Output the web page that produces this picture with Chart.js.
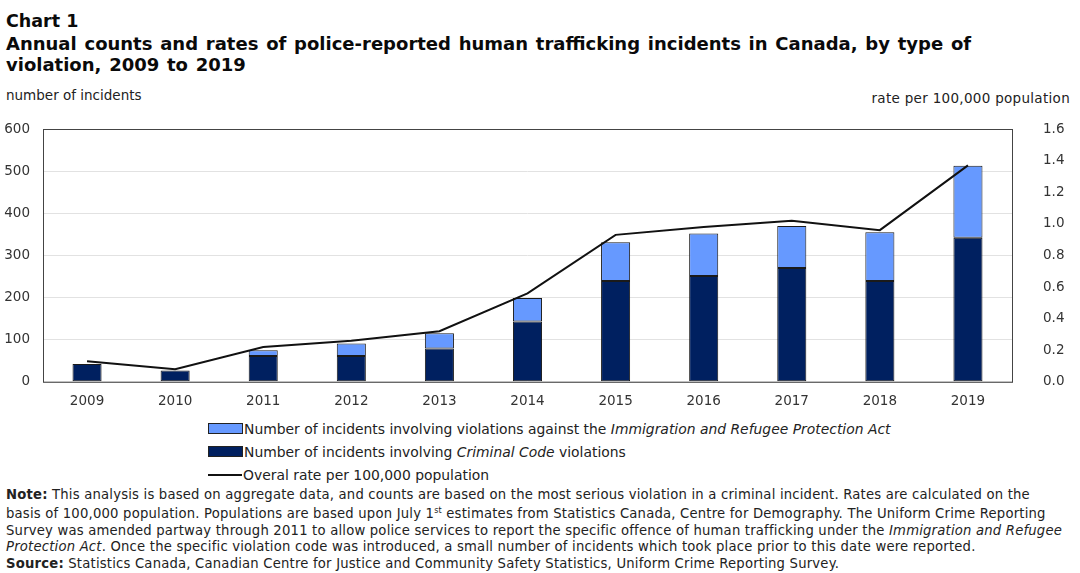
<!DOCTYPE html>
<html>
<head>
<meta charset="utf-8">
<script src="https://cdn.jsdelivr.net/npm/chart.js@4"></script>
<style>
    body { margin: 0; background: #fff; width: 1080px; height: 573px; overflow: hidden; position: relative; font-family: "DejaVu Sans", Verdana, sans-serif; color: #111; }
    .title { position: absolute; left: 6px; top: 10px; font-weight: bold; color: #0a0a0a; }
    .title .num { font-size: 17.5px; line-height: 23px; }
    .title .main { font-size: 18px; line-height: 21px; word-spacing: 1.5px; }
    .axis-label { position: absolute; top: 87px; font-size: 13.5px; color: #222; }
    #chartWrap { position: absolute; left: 0; top: 108px; width: 1080px; height: 306px; }
    .legend { position: absolute; left: 208px; top: 417px; font-size: 13.9px; color: #222; }
    .legend .row { height: 23px; line-height: 18px; display: flex; align-items: center; white-space: nowrap; }
    .legend .box { width: 33px; height: 9px; border: 1px solid #222; margin-right: 1px; }
    .legend .ln { width: 34px; height: 2px; background: #111; margin-right: 1px; }
    .note { position: absolute; left: 6px; top: 487px; font-size: 13.2px; letter-spacing: 0.2px; line-height: 16.3px; color: #222; white-space: nowrap; }
</style>
</head>
<body>
<div class="title">
    <div class="num">Chart 1</div>
    <div class="main">Annual counts and rates of police-reported human trafficking incidents in Canada, by type of<br>violation, 2009 to 2019</div>
</div>
<div class="axis-label" style="left:6px;">number of incidents</div>
<div class="axis-label" style="right:10px; top:90px; letter-spacing:0.3px;">rate per 100,000 population</div>
<div id="chartWrap"><canvas id="chart"></canvas></div>
<div class="legend">
    <div class="row"><span class="box" style="background:#6699ff"></span>Number of incidents involving violations against the&nbsp;<i>Immigration and Refugee Protection Act</i></div>
    <div class="row"><span class="box" style="background:#002060"></span>Number of incidents involving&nbsp;<i>Criminal Code</i>&nbsp;violations</div>
    <div class="row"><span class="ln"></span>Overal rate per 100,000 population</div>
</div>
<div class="note">
    <b>Note:</b> This analysis is based on aggregate data, and counts are based on the most serious violation in a criminal incident. Rates are calculated on the<br>
    basis of 100,000 population. Populations are based upon July 1<sup style="font-size:8px">st</sup> estimates from Statistics Canada, Centre for Demography. The Uniform Crime Reporting<br>
    Survey was amended partway through 2011 to allow police services to report the specific offence of human trafficking under the <i>Immigration and Refugee</i><br>
    <i>Protection Act</i>. Once the specific violation code was introduced, a small number of incidents which took place prior to this date were reported.<br>
    <b>Source:</b> Statistics Canada, Canadian Centre for Justice and Community Safety Statistics, Uniform Crime Reporting Survey.
</div>
<script>
// Chart data
const years = ['2009', '2010', '2011', '2012', '2013', '2014', '2015', '2016', '2017', '2018', '2019'];
const criminalCode = [42, 27, 61, 61, 79, 143, 239, 251, 270, 239, 342];
const irpa = [0, 0, 14, 30, 36, 56, 92, 101, 100, 116, 171];
const overallRate = [0.13, 0.08, 0.22, 0.26, 0.32, 0.56, 0.93, 0.98, 1.02, 0.96, 1.37];

// Draws the box around the plot area
const frameBox = {
    id: 'frameBox',
    afterDraw(chart) {
        const { ctx, chartArea: a } = chart;
        ctx.save();
        ctx.strokeStyle = '#444';
        ctx.lineWidth = 1;
        ctx.strokeRect(a.left + 0.5, a.top + 0.5, a.width, a.height);
        ctx.restore();
    }
};

// Fixed axis widths so the plot box lines up with the original
function fixWidth(w) {
    return function (scale) {
        scale.width = w;
        scale.paddingTop = 0;
        scale.paddingBottom = 0;
    };
}

document.addEventListener('DOMContentLoaded', function () {
    const tickFont = { family: 'DejaVu Sans', size: 13.5 };
    new Chart(document.getElementById('chart').getContext('2d'), {
        type: 'bar',
        data: {
            labels: years,
            datasets: [
                {
                    type: 'line',
                    label: 'Overal rate per 100,000 population',
                    data: overallRate,
                    yAxisID: 'y1',
                    borderColor: '#111',
                    borderWidth: 2,
                    pointRadius: 0,
                    tension: 0,
                    order: 0
                },
                {
                    label: 'Number of incidents involving Criminal Code violations',
                    data: criminalCode,
                    backgroundColor: '#002060',
                    borderColor: '#1a1a1a',
                    borderWidth: 1,
                    borderSkipped: false,
                    barPercentage: 0.33,
                    categoryPercentage: 1,
                    order: 1
                },
                {
                    label: 'Number of incidents involving violations against the Immigration and Refugee Protection Act',
                    data: irpa,
                    backgroundColor: '#6699ff',
                    borderColor: '#1a1a1a',
                    borderWidth: 1,
                    borderSkipped: false,
                    barPercentage: 0.33,
                    categoryPercentage: 1,
                    order: 2
                }
            ]
        },
        options: {
            responsive: true,
            maintainAspectRatio: false,
            animation: false,
            layout: { padding: { top: 21, left: 0, right: 0, bottom: 0 } },
            plugins: {
                legend: { display: false },
                tooltip: { enabled: false }
            },
            scales: {
                x: {
                    stacked: true,
                    grid: { display: false },
                    border: { display: false },
                    ticks: { color: '#333', font: tickFont, padding: 4 }
                },
                y: {
                    stacked: true,
                    min: 0,
                    max: 600,
                    ticks: { stepSize: 100, color: '#333', font: tickFont, padding: 13 },
                    grid: { color: '#e2e2e2', drawTicks: false },
                    border: { display: false },
                    afterFit: fixWidth(43)
                },
                y1: {
                    position: 'right',
                    min: 0,
                    max: 1.6,
                    ticks: {
                        stepSize: 0.2,
                        color: '#333',
                        font: tickFont,
                        padding: 31,
                        callback: v => v.toFixed(1)
                    },
                    grid: { display: false, drawTicks: false },
                    border: { display: false },
                    afterFit: fixWidth(68)
                }
            }
        },
        plugins: [frameBox]
    });
});
</script>
</body>
</html>
